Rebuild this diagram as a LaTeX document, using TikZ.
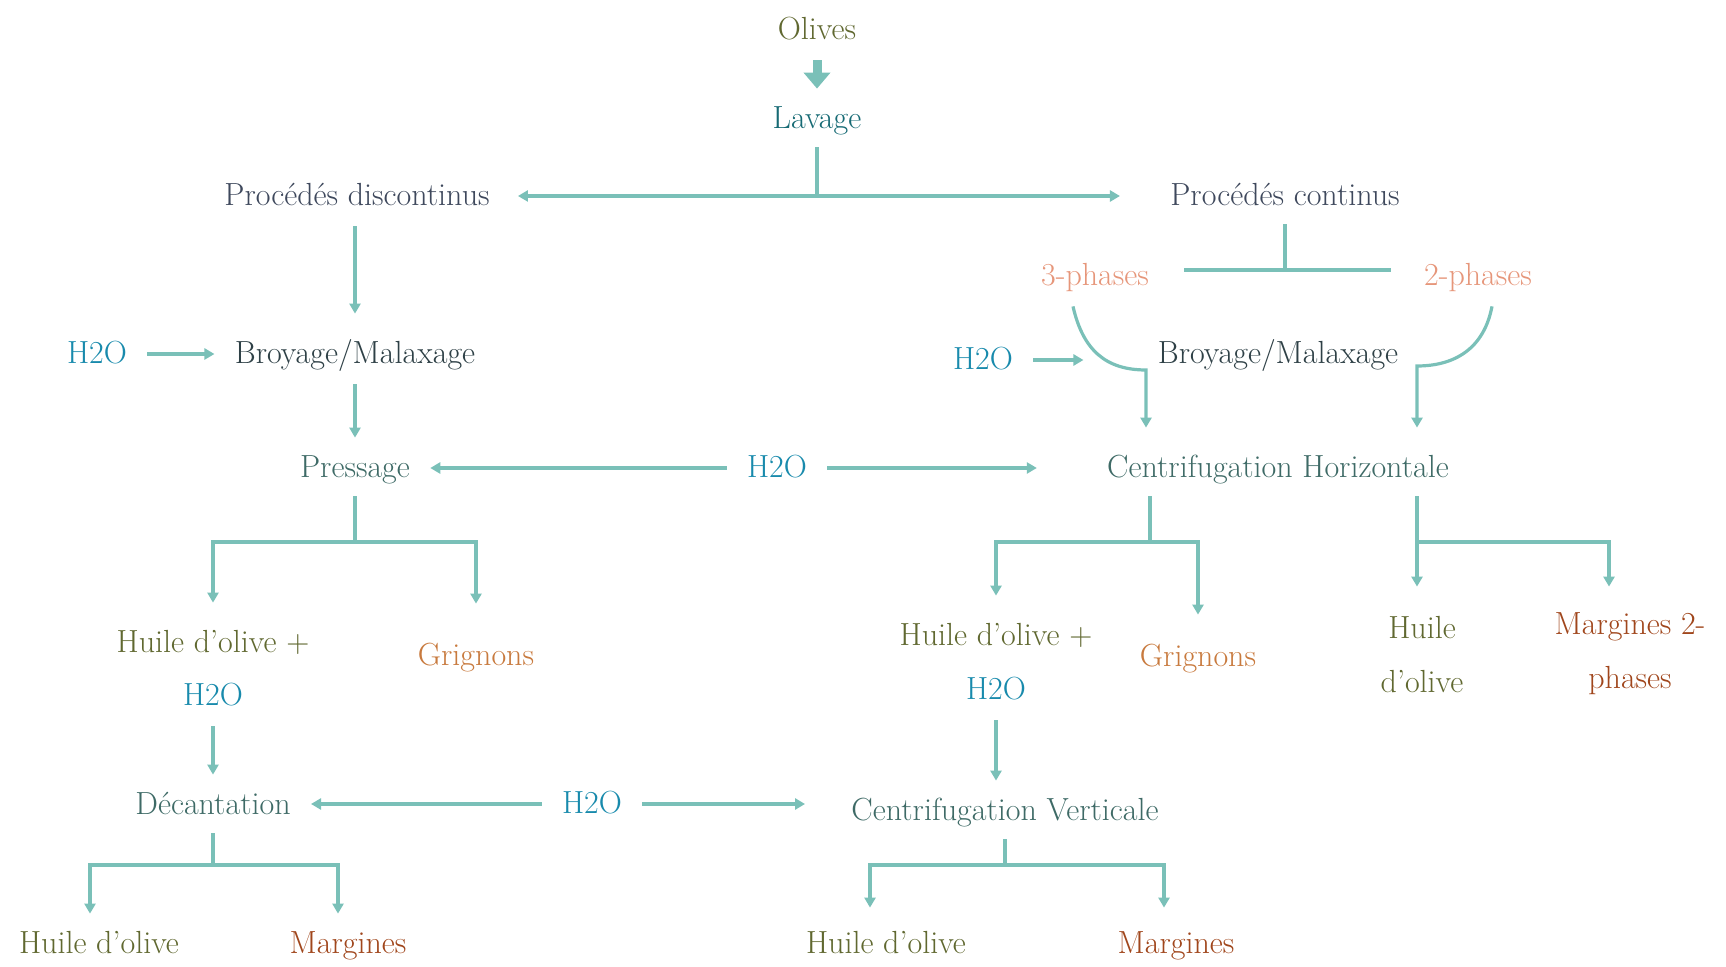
\documentclass[tikz,border=0pt]{standalone}
\usepackage{fontspec}
\usetikzlibrary{arrows.meta}
\definecolor{linec}{RGB}{122,192,184}
\definecolor{olivec}{RGB}{96,104,48}
\definecolor{lavc}{RGB}{22,106,116}
\definecolor{procc}{RGB}{62,72,92}
\definecolor{h2oc}{RGB}{24,138,172}
\definecolor{broyc}{RGB}{46,64,70}
\definecolor{stepc}{RGB}{62,106,102}
\definecolor{phasec}{RGB}{230,150,122}
\definecolor{grigc}{RGB}{200,122,62}
\definecolor{margc}{RGB}{160,70,28}

\begin{document}
\begin{tikzpicture}[x=0.5pt, y=-0.5pt,
  >={Triangle[length=5pt,width=5.5pt]},
  every node/.style={font=\fontsize{16}{19}\selectfont, text height=12pt, text depth=2pt,
    inner xsep=10pt, inner ysep=8pt},
  link/.style={draw=linec, line width=1.6pt, ->},
  bar/.style={draw=linec, line width=2.2pt, line cap=rect},
  bigarrow/.style={draw=linec, line width=4.5pt, -{Triangle[length=8pt,width=13pt]}}]

\useasboundingbox (0,0) rectangle (1726,967);

% top
\node[text=olivec] (olv) at (817,30) {Olives};
\node[text=lavc] (lav) at (817,119) {Lavage};
\node[text=procc] (disc) at (357,196) {Procédés discontinus};
\node[text=procc] (cont) at (1285,196) {Procédés continus};
\node[text=phasec] (ph3) at (1095,276) {3-phases};
\node[text=phasec] (ph2) at (1478,276) {2-phases};

% discontinuous line
\node[text=h2oc] (hwL) at (97,354) {H2O};
\node[text=broyc] (broyL) at (355,354) {Broyage/Malaxage};
\node[text=stepc] (press) at (355,468) {Pressage};
\node[text=h2oc] (hwM) at (777,468) {H2O};
\node[text=olivec] (hoA) at (213,643) {Huile d’olive +};
\node[text=h2oc] (hwA) at (213,696) {H2O};
\node[text=grigc] (grA) at (476,656) {Grignons};
\node[text=stepc] (dec) at (213,805) {Décantation};
\node[text=h2oc] (hwD) at (592,804) {H2O};
\node[text=olivec] (hoD) at (99,944) {Huile d’olive};
\node[text=margc] (mgD) at (348,944) {Margines};

% continuous line
\node[text=h2oc] (hwR) at (983,360) {H2O};
\node[text=broyc] (broyR) at (1278,354) {Broyage/Malaxage};
\node[text=stepc] (ch) at (1278,468) {Centrifugation Horizontale};
\node[text=olivec] (hoB) at (996,636) {Huile d’olive +};
\node[text=h2oc] (hwB) at (996,690) {H2O};
\node[text=grigc] (grB) at (1198,657) {Grignons};
\node[text=olivec] (hoC) at (1422,629) {Huile};
\node[text=olivec] (hoC2) at (1422,683) {d’olive};
\node[text=margc] (mgC) at (1630,625) {Margines 2-};
\node[text=margc] (mgC2) at (1630,679) {phases};
\node[text=stepc] (cv) at (1005,811) {Centrifugation Verticale};
\node[text=olivec] (hoE) at (886,944) {Huile d’olive};
\node[text=margc] (mgE) at (1176,944) {Margines};

% forks
\coordinate (ctfork) at (1285,270);
\coordinate (ctL) at (1186,270);
\coordinate (ctR) at (1389,270);
\coordinate (j3) at (1146,370);
\coordinate (j2) at (1417,366);
\coordinate (pfork) at (355,542);
\coordinate (chL) at (1150,542);
\coordinate (chRa) at (1417,542);
\coordinate (chRb) at (1609,542);
\coordinate (dforkL) at (90,865);
\coordinate (dforkR) at (338,865);
\coordinate (vforkL) at (870,865);
\coordinate (vforkR) at (1164,865);

% connectors
\draw[bigarrow] (olv) -- (lav);
\draw[bar] (lav) -- (lav |- disc);
\draw[link, <->, shorten <=4pt, shorten >=15pt] (disc) -- (cont);
\draw[bar] (cont) -- (ctfork);
\draw[bar] (ctL) -- (ctR);

\draw[link, shorten >=5pt] (disc.south -| broyL) -- (broyL);
\draw[link] (hwL) -- (broyL);
\draw[link] (broyL) -- (press);
\draw[link] (hwM) -- (press);
\draw[link, shorten >=25pt] (hwM) -- (ch);
\draw[bar] (press) -- (pfork);
\draw[bar] (pfork -| hoA) -- (pfork -| grA);
\draw[link, shorten >=5pt] (pfork -| hoA) -- (hoA);
\draw[link, shorten >=11pt] (pfork -| grA) -- (grA);
\draw[link] (hwA) -- (dec);
\draw[link] (hwD.west) -- (hwD.west -| dec.east);
\draw[link, shorten >=13pt] (hwD.east) -- (hwD.east -| cv.west);
\draw[bar] (dec) -- (dec |- dforkL);
\draw[bar] (dforkL) -- (dforkR);
\draw[link] (dforkL) -- (dforkL |- hoD.north);
\draw[link] (dforkR) -- (dforkR |- mgD.north);

\draw[link, shorten >=27pt] (hwR.east) -- (hwR.east -| broyR.west);
\draw[link, shorten >=5pt] ([xshift=-11pt]ph3.south) .. controls +(10,44) and +(-40,0) .. (j3) -- (j3 |- ch.north);
\draw[link, shorten >=5pt] ([xshift=7pt]ph2.south) .. controls +(-8,42) and +(38,0) .. (j2) -- (j2 |- ch.north);
\draw[bar] (ch.south -| chL) -- (chL);
\draw[bar] (chL -| hoB) -- (chL -| grB);
\draw[link, shorten >=5pt] (chL -| hoB) -- (hoB);
\draw[link, shorten >=6pt] (chL -| grB) -- (grB);
\draw[bar] (ch.south -| chRa) -- (chRa);
\draw[bar] (chRa) -- (chRb);
\draw[link, shorten >=6pt] (chRa) -- (chRa |- hoC.north);
\draw[link, shorten >=4pt] (chRb) -- (chRb |- mgC.north);
\draw[link] (hwB) -- (hwB |- cv.north);
\draw[bar] (cv) -- (cv |- vforkL);
\draw[bar] (vforkL) -- (vforkR);
\draw[link, shorten >=3pt] (vforkL) -- (vforkL |- hoE.north);
\draw[link, shorten >=3pt] (vforkR) -- (vforkR |- mgE.north);
\end{tikzpicture}
\end{document}
